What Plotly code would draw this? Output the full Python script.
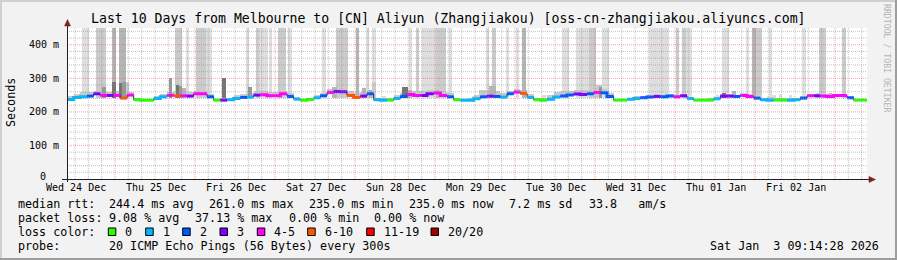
import plotly.graph_objects as go

# ---------------- data ----------------
title_text = "Last 10 Days from Melbourne to [CN] Aliyun (Zhangjiakou) [oss-cn-zhangjiakou.aliyuncs.com]"
y_axis_title = "Seconds"
side_text = "RRDTOOL / TOBI OETIKER"
timestamp_text = "Sat Jan  3 09:14:28 2026"

x_range_hours = [0, 240]
y_range_ms = [0, 450]

day_labels = ["Wed 24 Dec", "Thu 25 Dec", "Fri 26 Dec", "Sat 27 Dec", "Sun 28 Dec",
              "Mon 29 Dec", "Tue 30 Dec", "Wed 31 Dec", "Thu 01 Jan", "Fri 02 Jan"]
day_label_hours = [2.7, 26.7, 50.7, 74.7, 98.7, 122.7, 146.7, 170.7, 194.7, 218.7]
midnight_hours = [14.4, 38.4, 62.4, 86.4, 110.4, 134.4, 158.4, 182.4, 206.4, 230.4]
y_tick_values = [0, 100, 200, 300, 400]
y_tick_labels = ["0", "100 m", "200 m", "300 m", "400 m"]

step_hours = 2
median_ms = [237, 243, 245, 247, 254, 249, 249, 249, 241, 250,
             236, 235, 235, 240, 245, 249, 248, 248, 247, 254,
             254, 245, 235, 235, 236, 240, 243, 244, 250, 251,
             248, 248, 254, 246, 238, 235, 237, 242, 248, 258,
             261, 260, 249, 243, 247, 254, 236, 235, 235, 240,
             246, 252, 249, 249, 254, 256, 249, 245, 236, 235,
             235, 239, 245, 247, 246, 244, 254, 259, 255, 243,
             236, 235, 238, 244, 247, 250, 253, 252, 254, 258,
             257, 246, 235, 235, 238, 240, 242, 244, 246, 245,
             247, 245, 248, 240, 235, 235, 235, 239, 247, 247,
             246, 249, 246, 241, 236, 235, 235, 235, 235, 236,
             241, 248, 248, 247, 246, 249, 249, 242, 235, 235]
# loss class index: 0->"0", 1->"1", 2->"2", 3->"3", 4->"4-5", 5->"6-10", 6->"11-19", 7->"20/20"
loss_class = [1, 1, 1, 2, 3, 4, 3, 4, 5, 4,
              0, 0, 0, 1, 1, 4, 5, 4, 3, 4,
              4, 2, 0, 3, 1, 1, 2, 1, 3, 4,
              4, 4, 4, 2, 1, 0, 0, 1, 2, 4,
              3, 3, 5, 5, 3, 2, 1, 1, 0, 1,
              2, 4, 4, 3, 3, 4, 4, 2, 0, 1,
              1, 1, 2, 3, 2, 1, 2, 4, 5, 1,
              0, 0, 1, 1, 2, 2, 3, 3, 2, 4,
              2, 2, 0, 0, 1, 1, 2, 2, 3, 2,
              2, 4, 3, 1, 0, 0, 0, 1, 3, 3,
              2, 4, 4, 2, 1, 1, 0, 0, 1, 1,
              2, 4, 3, 4, 4, 4, 4, 2, 0, 0]
smoke_top_ms = [248, 252, 258, 260, 262, 262, 260, 262, 262, 258,
                240, 237, 237, 246, 252, 258, 262, 262, 258, 262,
                262, 252, 238, 240, 242, 250, 254, 256, 262, 262,
                258, 258, 262, 255, 244, 238, 240, 250, 256, 268,
                272, 270, 262, 256, 258, 262, 242, 240, 242, 250,
                256, 262, 262, 262, 266, 266, 260, 255, 240, 238,
                240, 250, 258, 262, 262, 256, 262, 268, 265, 252,
                240, 242, 250, 258, 262, 262, 264, 264, 266, 272,
                268, 255, 238, 238, 242, 246, 248, 250, 252, 250,
                252, 250, 254, 245, 238, 238, 240, 244, 252, 252,
                250, 256, 252, 246, 240, 244, 240, 240, 242, 240,
                246, 254, 254, 252, 252, 254, 254, 248, 238, 238]

# smoke spikes: start hour, end hour, top (ms), ping density level (1 = few pings .. 5 = many)
spike_start_h = [4.4, 8.6, 13.4, 15.6, 32.4, 35.6, 38.6, 41.6, 53.6, 56.6, 57.6,
                 10.4, 13.4, 15.6, 16.6, 17.6, 30.6, 32.6, 33.6, 34.6, 46.4, 54.4,
                 60.6, 63.4, 66.4, 76.4, 80.6, 86.6, 89.6, 91.6, 102.6, 104.6, 106.6, 110.6, 114.6,
                 79.4, 88.4, 90.6, 91.6, 94.4, 100.4, 102.4, 110.6,
                 125.6, 127.6, 131.6, 134.6, 136.6, 148.6, 152.6, 156.6, 160.6, 174.6,
                 121.6, 123.6, 126.6, 142.6, 158.6, 159.6,
                 182.6, 184.6, 185.6, 196.6, 203.6, 205.6, 206.6, 210.6, 220.6, 225.6, 232.6,
                 194.6, 196.6, 199.6, 211.6, 213.6, 216.6, 224.6, 228.6]
spike_end_h = [6.6, 11.6, 14.6, 17.6, 34.4, 36.6, 41.6, 43.4, 54.6, 57.6, 60.2,
               11.6, 14.6, 16.6, 17.6, 18.6, 31.6, 33.6, 34.6, 35.6, 47.6, 55.6,
               61.4, 65.6, 67.4, 77.6, 84.4, 87.6, 90.6, 92.6, 103.6, 105.6, 110.6, 113.6, 115.6,
               80.9, 89.6, 91.6, 92.6, 95.6, 102.4, 103.4, 111.6,
               126.6, 128.6, 132.6, 135.6, 137.6, 150.6, 156.6, 158.6, 162.6, 180.6,
               122.6, 126.6, 128.6, 143.6, 160.6, 160.4,
               183.6, 185.6, 187.6, 198.6, 204.6, 206.6, 208.6, 211.6, 221.6, 227.6, 233.6,
               195.6, 197.6, 200.6, 212.6, 214.6, 217.6, 225.6, 229.6]
spike_top_ms = [500, 500, 500, 500, 500, 500, 500, 500, 500, 500, 500,
                275, 290, 285, 290, 290, 300, 280, 278, 270, 301, 275,
                500, 500, 500, 500, 500, 500, 500, 500, 500, 500, 500, 500, 500,
                275, 270, 265, 290, 248, 275, 265, 265,
                500, 500, 500, 500, 500, 500, 500, 500, 500, 500,
                248, 265, 277, 250, 280, 275,
                500, 500, 500, 500, 500, 500, 500, 500, 500, 500, 500,
                250, 255, 261, 250, 252, 250, 256, 255]
spike_density = [1, 2, 3, 3, 2, 1, 2, 1, 1, 2, 1,
                 4, 5, 5, 4, 2, 4, 5, 4, 3, 5, 4,
                 1, 2, 1, 1, 2, 3, 1, 1, 1, 2, 1, 2, 1,
                 3, 3, 3, 2, 1, 5, 3, 3,
                 1, 2, 1, 1, 3, 1, 1, 2, 1, 1,
                 1, 2, 3, 1, 2, 4,
                 2, 2, 1, 1, 1, 3, 2, 1, 1, 2, 2,
                 1, 5, 3, 1, 1, 1, 2, 3]

loss_labels = ["0", "1", "2", "3", "4-5", "6-10", "11-19", "20/20"]

stats_rtt = ["median rtt:", "244.4 ms avg", "261.0 ms max", "235.0 ms min",
             "235.0 ms now", "7.2 ms sd", "33.8   am/s"]
stats_loss = ["packet loss:", "9.08 % avg", "37.13 % max", "0.00 % min", "0.00 % now"]
probe_row = ["probe:", "20 ICMP Echo Pings (56 Bytes) every 300s"]
loss_row_label = "loss color:"

# ---------------- styling ----------------
W, H = 897, 260
PL, PR, PT, PB = 67, 867, 28, 179
MONO = "DejaVu Sans Mono"
loss_colors = ["#26ff00", "#00b8ff", "#0059ff", "#7e00ff", "#ff00ff", "#ff5500", "#ff0000", "#a10000"]
density_colors = {1: "#dedede", 2: "#cbcbcb", 3: "#b5b5b5", 4: "#989898", 5: "#757575"}
band_color = "#c9c9c9"
GRID = "rgba(143,143,143,0.55)"
MGRID = "rgba(222,79,79,0.5)"


def fx(px):
    return (px - PL) / (PR - PL)


def fy(py):
    return (PB - py) / (PB - PT)


def nb(s):
    return s.replace(" ", "\u00a0")


n = len(median_ms)
hours = [i * step_hours for i in range(n)]

fig = go.Figure()


def add_spikes(levels):
    for lvl in levels:
        xs, ws, ys, bs = [], [], [], []
        for s, e, t, d in zip(spike_start_h, spike_end_h, spike_top_ms, spike_density):
            if d == lvl:
                xs.append((s + e) / 2)
                ws.append(e - s)
                ys.append(t - 240)
                bs.append(240)
        if xs:
            fig.add_trace(go.Bar(x=xs, y=ys, base=bs, width=ws,
                                 marker=dict(color=density_colors[lvl], line=dict(width=0)),
                                 showlegend=False, hoverinfo="skip"))


add_spikes([1, 2])

# smoke band close to the median
fig.add_trace(go.Bar(x=[h + step_hours / 2 for h in hours],
                     y=[t - m for t, m in zip(smoke_top_ms, median_ms)],
                     base=median_ms, width=step_hours,
                     marker=dict(color=band_color, line=dict(width=0)),
                     showlegend=False, hoverinfo="skip"))

add_spikes([3, 4, 5])

# thin dark median (visible at colour transitions)
fig.add_trace(go.Scatter(x=hours + [x_range_hours[1]], y=median_ms + [median_ms[-1]],
                         mode="lines", line=dict(color="#202020", width=1, shape="hv"),
                         showlegend=False, hoverinfo="skip"))

# coloured median by loss class
for lvl in range(len(loss_colors)):
    xs, ys = [], []
    i = 0
    while i < n:
        if loss_class[i] == lvl:
            j = i
            while j < n and loss_class[j] == lvl:
                j += 1
            for k in range(i, j):
                xs.append(hours[k])
                ys.append(median_ms[k])
            xs.append(hours[j - 1] + step_hours)
            ys.append(median_ms[j - 1])
            xs.append(None)
            ys.append(None)
            i = j
        else:
            i += 1
    if xs:
        fig.add_trace(go.Scatter(x=xs, y=ys, mode="lines",
                                 line=dict(color=loss_colors[lvl], width=3, shape="hv"),
                                 connectgaps=False, showlegend=False, hoverinfo="skip"))

shapes = []
# grid lines (drawn above the graph like rrdtool)
for v in range(20, 450, 20):
    if v % 100 == 0:
        continue
    shapes.append(dict(type="line", xref="x", yref="y", x0=x_range_hours[0], x1=x_range_hours[1],
                       y0=v, y1=v, line=dict(color=GRID, width=1, dash="1px,1px"), layer="above"))
for v in y_tick_values[1:]:
    shapes.append(dict(type="line", xref="x", yref="y", x0=x_range_hours[0], x1=x_range_hours[1],
                       y0=v, y1=v, line=dict(color=MGRID, width=1, dash="1px,1px"), layer="above"))
minor_h = midnight_hours[0] - 12
while minor_h < x_range_hours[1]:
    if minor_h > 0 and all(abs(minor_h - m) > 0.1 for m in midnight_hours):
        shapes.append(dict(type="line", xref="x", yref="y", x0=minor_h, x1=minor_h,
                           y0=y_range_ms[0], y1=y_range_ms[1],
                           line=dict(color=GRID, width=1, dash="1px,1px"), layer="above"))
    minor_h += 4
for m in midnight_hours:
    shapes.append(dict(type="line", xref="x", yref="y", x0=m, x1=m, y0=y_range_ms[0], y1=y_range_ms[1],
                       line=dict(color=MGRID, width=1, dash="1px,1px"), layer="above"))

# axes with arrows
AX = "#1f1f1f"
ARROW = "#801f1f"
shapes.append(dict(type="line", xref="paper", yref="paper", x0=fx(67.5), x1=fx(67.5), y0=fy(182), y1=fy(24),
                   line=dict(color=AX, width=1), layer="above"))
shapes.append(dict(type="line", xref="paper", yref="paper", x0=fx(62), x1=fx(870), y0=fy(179.5), y1=fy(179.5),
                   line=dict(color=AX, width=1), layer="above"))
shapes.append(dict(type="path", xref="paper", yref="paper",
                   path="M {} {} L {} {} L {} {} Z".format(fx(64.5), fy(26), fx(70.5), fy(26), fx(67.5), fy(19.5)),
                   fillcolor=ARROW, line=dict(color=ARROW, width=0.5), layer="above"))
shapes.append(dict(type="path", xref="paper", yref="paper",
                   path="M {} {} L {} {} L {} {} Z".format(fx(869), fy(176.5), fx(869), fy(182.5), fx(875.5), fy(179.5)),
                   fillcolor=ARROW, line=dict(color=ARROW, width=0.5), layer="above"))

# outer 3D frame
shapes.append(dict(type="line", xref="paper", yref="paper", x0=fx(0), x1=fx(W), y0=fy(1), y1=fy(1),
                   line=dict(color="#cfcfcf", width=2)))
shapes.append(dict(type="line", xref="paper", yref="paper", x0=fx(1), x1=fx(1), y0=fy(0), y1=fy(H),
                   line=dict(color="#cfcfcf", width=2)))
shapes.append(dict(type="line", xref="paper", yref="paper", x0=fx(0), x1=fx(W), y0=fy(H - 1), y1=fy(H - 1),
                   line=dict(color="#9e9e9e", width=2)))
shapes.append(dict(type="line", xref="paper", yref="paper", x0=fx(W - 1), x1=fx(W - 1), y0=fy(0), y1=fy(H),
                   line=dict(color="#9e9e9e", width=2)))

annotations = []


def text(x, y, s, size=11.7, anchor="left", color="#000000", angle=0, xref="paper", yref="paper", yshift=0):
    annotations.append(dict(x=x, y=y, xref=xref, yref=yref, text=nb(s), showarrow=False,
                            xanchor=anchor, yanchor="middle", textangle=angle, yshift=yshift,
                            font=dict(family=MONO, size=size, color=color)))


text(fx(448), fy(19), title_text, size=13.2, anchor="center")
text(fx(11), fy(102), y_axis_title, size=11.7, anchor="center", angle=-90)
text(fx(887), fy(59), side_text, size=8.2, anchor="center", color="#b4b4b4", angle=90)

for v, lab in zip(y_tick_values, y_tick_labels):
    if v == 0:
        text(fx(47.5), v, lab, size=10, anchor="right", yref="y", yshift=3)
    else:
        text(fx(60.5), v, lab, size=10, anchor="right", yref="y")
for h, lab in zip(day_label_hours, day_labels):
    text(h, fy(187), lab, size=10, anchor="center", xref="x")

rtt_x = [16, 107.3, 207.3, 307.3, 406.7, 507.3, 586.7]
for xp, s in zip(rtt_x, stats_rtt):
    text(fx(xp), fy(203.5), s)
loss_x = [16, 107.3, 193.3, 286.7, 372.3]
for xp, s in zip(loss_x, stats_loss):
    text(fx(xp), fy(218.3), s)
text(fx(16), fy(231.7), loss_row_label)
box_x = [108.3, 145.7, 182.7, 220.0, 257.3, 307.7, 366.7, 431.0]
for xp, lab, col in zip(box_x, loss_labels, loss_colors):
    shapes.append(dict(type="rect", xref="paper", yref="paper", x0=fx(xp), x1=fx(xp + 7.5),
                       y0=fy(235.5), y1=fy(228.0), fillcolor=col, line=dict(color="#000000", width=1)))
    text(fx(xp + 15), fy(231.7), lab)
text(fx(16), fy(246), probe_row[0])
text(fx(107.3), fy(246), probe_row[1])
text(fx(881), fy(246), timestamp_text, anchor="right")

fig.update_layout(
    width=W, height=H,
    margin=dict(l=PL, r=W - PR, t=PT, b=H - PB, pad=0),
    paper_bgcolor="#f2f2f2", plot_bgcolor="#ffffff",
    barmode="overlay", bargap=0,
    showlegend=False,
    xaxis=dict(range=x_range_hours, showgrid=False, zeroline=False, showticklabels=False,
               showline=False, ticks="", fixedrange=True),
    yaxis=dict(range=y_range_ms, showgrid=False, zeroline=False, showticklabels=False,
               showline=False, ticks="", fixedrange=True),
    shapes=shapes, annotations=annotations,
)

fig.write_html("out.html", config={"displayModeBar": False})
